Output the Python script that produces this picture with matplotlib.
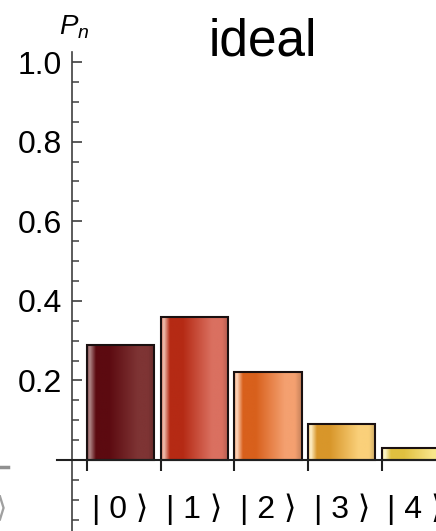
import numpy as np
import matplotlib
matplotlib.use("Agg")
import matplotlib.pyplot as plt
from matplotlib.colors import to_rgb
from matplotlib.lines import Line2D

plt.rcParams['font.family'] = ['Liberation Sans', 'DejaVu Sans']
plt.rcParams['mathtext.fontset'] = 'custom'
plt.rcParams['mathtext.it'] = 'Liberation Sans:italic'
plt.rcParams['mathtext.rm'] = 'Liberation Sans'

# Fock-state populations
states = ["| 0 \u27e9", "| 1 \u27e9", "| 2 \u27e9", "| 3 \u27e9", "| 4 \u27e9"]
populations = [0.29, 0.36, 0.22, 0.09, 0.03]
title = "ideal"
ytick_values = [0.2, 0.4, 0.6, 0.8, 1.0]
ytick_labels = ["0.2", "0.4", "0.6", "0.8", "1.0"]

# shading per bar: (highlight, dark, light)
bar_shades = [
    ("#b08888", "#5c0a10", "#7e3434"),
    ("#f0c0b0", "#b52a14", "#da7060"),
    ("#ffd8c0", "#d8601c", "#f4a070"),
    ("#fff0c8", "#d8962a", "#fad07a"),
    ("#fff8d0", "#e0c040", "#f8e68c"),
]

W, H, DPI = 436, 531, 100
fig = plt.figure(figsize=(W / DPI, H / DPI), dpi=DPI)
ax = fig.add_axes([0, 0, 1, 1])

step_px = 73.75
x0_px = 120.5
xlim = (-x0_px / step_px, (W - x0_px) / step_px)
ylim = (-71 / 398, 460 / 398)

pos = np.arange(len(populations))
width = 0.91
bars = ax.bar(pos, populations, width=width, facecolor="none",
              edgecolor="#1a1010", linewidth=1.5, zorder=3)


def mix(c1, c2, f):
    a, b = np.array(to_rgb(c1)), np.array(to_rgb(c2))
    return a * (1 - f) + b * f


for rect, (hi, dk, lt) in zip(bars, bar_shades):
    stops = [(0.0, mix(dk, hi, 0.5)), (0.04, np.array(to_rgb(hi))),
             (0.13, np.array(to_rgb(dk))), (0.32, np.array(to_rgb(dk))),
             (0.75, np.array(to_rgb(lt))), (0.9, np.array(to_rgb(lt))),
             (1.0, np.array(to_rgb(lt)) * 0.8)]
    t = np.linspace(0, 1, 200)
    ts = [s[0] for s in stops]
    img = np.stack([np.interp(t, ts, [s[1][k] for s in stops]) for k in range(3)], axis=-1)
    x, y = rect.get_x(), rect.get_y()
    w, h = rect.get_width(), rect.get_height()
    ax.imshow(img[None, :, :], extent=(x, x + w, y, y + h), aspect='auto',
              interpolation='bilinear', zorder=2)

ax.set_xlim(*xlim)
ax.set_ylim(*ylim)

# axes through the origin
for s in ("top", "right"):
    ax.spines[s].set_visible(False)
yaxis_x = (72 - x0_px) / step_px
ax.spines["left"].set_position(("data", yaxis_x))
ax.spines["left"].set_bounds(-0.2, 1.025)
ax.spines["bottom"].set_position(("data", 0))
ax.spines["bottom"].set_bounds((57 - x0_px) / step_px, 5)
ax.spines["left"].set_color("#404040")
ax.spines["bottom"].set_color("#202020")
ax.spines["left"].set_linewidth(1.2)
ax.spines["bottom"].set_linewidth(1.5)
ax.spines["bottom"].set_zorder(4)

ax.set_yticks(ytick_values, ytick_labels)
ax.set_yticks(np.arange(-0.15, 1.0, 0.05), minor=True)
ax.tick_params(axis="y", which="major", direction="in", length=7, width=1.2,
               color="#404040", labelsize=23, pad=7)
ax.tick_params(axis="y", which="minor", direction="in", length=5, width=1.1,
               color="#404040")

ax.set_xticks(pos, states)
ax.set_xticks(pos - width / 2, minor=True)
ax.tick_params(axis="x", which="major", length=0, labelsize=23, pad=24)
ax.tick_params(axis="x", which="minor", direction="out", length=8, width=1.5,
               color="#202020")

fig.text(74 / W, 1 - 27 / H, r"$P_n$", fontsize=20, ha="center", va="center")
fig.text(262.5 / W, 1 - 55 / H, title, fontsize=37, ha="center",
         va="baseline")

# fragments of the neighbouring panel at the left edge
fig.add_artist(Line2D([0, 8 / W], [1 - 467 / H] * 2, color="#909090",
                      linewidth=2.5, transform=fig.transFigure))
fig.text(-4 / W, 1 - 508 / H, "\u27e9", fontsize=21, color="#a0a0a0",
         ha="left", va="center")

fig.savefig("out.png", dpi=DPI)
